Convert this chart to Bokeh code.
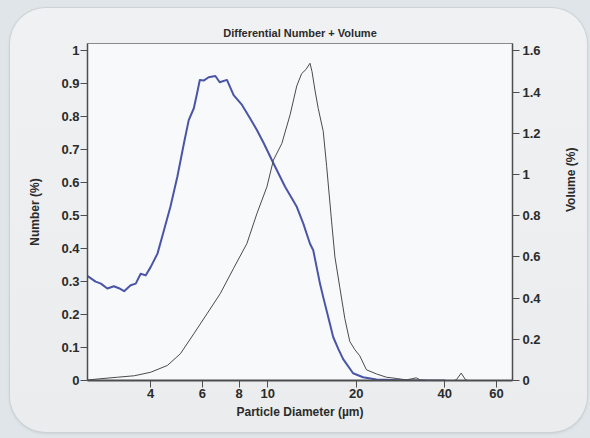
import math

from bokeh.plotting import figure
from bokeh.layouts import column
from bokeh.models import Range1d, LinearAxis, FixedTicker, NumeralTickFormatter
from bokeh.embed import file_html
from bokeh.resources import INLINE

# Particle size distribution: differential number and volume (%)
number_diam = [2.45, 2.60, 2.71, 2.85, 3.00, 3.12, 3.25, 3.42, 3.56, 3.70, 3.85,
               4.00, 4.22, 4.44, 4.67, 4.93, 5.19, 5.39, 5.61, 5.75, 5.88, 6.06, 6.30,
               6.64, 6.87, 7.27, 7.66, 8.18, 8.72, 9.19, 9.70, 10.46, 11.46, 12.56,
               13.22, 13.93, 14.29, 15.06, 15.45, 16.28, 16.70, 17.40, 18.06, 19.52, 21.10,
               23.43, 28.1, 35.0, 40.0]
number_pct = [0.316, 0.300, 0.294, 0.279, 0.286, 0.280, 0.271, 0.289, 0.294, 0.324, 0.319,
              0.344, 0.385, 0.456, 0.527, 0.618, 0.719, 0.790, 0.826, 0.870, 0.912, 0.910,
              0.920, 0.924, 0.905, 0.912, 0.866, 0.836, 0.795, 0.760, 0.720, 0.659, 0.588,
              0.527, 0.476, 0.415, 0.395, 0.294, 0.253, 0.172, 0.132, 0.095, 0.065, 0.022,
              0.010, 0.003, 0.001, 0.0, 0.0]

volume_diam = [2.45, 3.09, 3.52, 4.00, 4.56, 5.05, 5.61, 6.22, 6.90, 7.66, 8.50, 9.19,
               9.94, 10.46, 11.17, 11.92, 12.56, 13.05, 13.50, 13.93, 14.15, 14.48, 14.86,
               15.45, 15.87, 16.50, 16.93, 17.60, 18.30, 19.02, 19.78, 20.56, 21.67, 23.43,
               25.33, 27.37, 29.60, 30.85, 32.0, 33.1, 34.9, 43.1, 43.9, 45.5, 47.0, 48.0,
               68.0]
volume_pct = [0.003, 0.016, 0.023, 0.040, 0.073, 0.130, 0.227, 0.324, 0.422, 0.545, 0.665, 0.810,
              0.940, 1.070, 1.150, 1.290, 1.430, 1.490, 1.510, 1.540, 1.500, 1.410, 1.320,
              1.210, 1.040, 0.770, 0.600, 0.450, 0.300, 0.190, 0.150, 0.120, 0.052, 0.032,
              0.016, 0.010, 0.003, 0.008, 0.013, 0.002, 0.0, 0.0, 0.005, 0.036, 0.005, 0.0,
              0.0]

x_ticks = [4, 6, 8, 10, 20, 40, 60]
number_ticks = [0, 0.1, 0.2, 0.3, 0.4, 0.5, 0.6, 0.7, 0.8, 0.9, 1.0]
volume_ticks = [0, 0.2, 0.4, 0.6, 0.8, 1.0, 1.2, 1.4, 1.6]

FONT = "Liberation Sans"
TEXT = "#2b2b2b"

# the figure is the rounded card; the page behind it is a pale blue-grey
p = figure(width=577, height=424, x_axis_type="log",
           x_range=Range1d(2.44, 68.0), y_range=Range1d(0, 1.0225),
           output_backend="svg", toolbar_location=None,
           min_border_left=77, min_border_right=74,
           min_border_top=35, min_border_bottom=52,
           title="Differential Number + Volume",
           margin=(8, 3, 6, 10),
           styles={"background": "linear-gradient(#f0f1f2, #eaeced)",
                   "border-radius": "36px",
                   "box-shadow": "0 0 0 1px #cdd2d5, 0 1px 3px rgba(120,130,140,0.35)"})
p.extra_y_ranges = {"vol": Range1d(0, 1.636)}

p.border_fill_color = None
p.background_fill_color = "#f8f9fa"
p.outline_line_color = "#8a8a8a"
p.grid.grid_line_color = None

p.title.align = "center"
p.title.text_font = FONT
p.title.text_font_size = "11px"
p.title.text_font_style = "bold"
p.title.text_color = TEXT
p.title.standoff = 9

p.line(number_diam, number_pct, line_color="#4a55a8", line_width=2,
       line_join="round", line_cap="round")
p.line(volume_diam, volume_pct, line_color="#4a4a4a", line_width=1,
       y_range_name="vol")

right_axis = LinearAxis(y_range_name="vol", axis_label="Volume (%)")
p.add_layout(right_axis, "right")


def style_axis(ax, line_w):
    ax.axis_line_color = "#4d4d4d"
    ax.axis_line_width = line_w
    ax.major_tick_line_color = "#4d4d4d"
    ax.major_tick_in = 0
    ax.major_tick_out = 7
    ax.minor_tick_line_color = None
    ax.major_label_text_font = FONT
    ax.major_label_text_font_size = "13px"
    ax.major_label_text_font_style = "bold"
    ax.major_label_text_color = TEXT
    ax.axis_label_text_font = FONT
    ax.axis_label_text_font_size = "12px"
    ax.axis_label_text_font_style = "bold"
    ax.axis_label_text_color = TEXT


xa = p.xaxis[0]
style_axis(xa, 2)
xa.ticker = FixedTicker(ticks=x_ticks, minor_ticks=[])
xa.formatter = NumeralTickFormatter(format="0")
xa.axis_label = "Particle Diameter (µm)"
xa.major_label_standoff = 1
xa.axis_label_standoff = 4

ya = p.yaxis[0]
style_axis(ya, 1.5)
ya.ticker = FixedTicker(ticks=number_ticks, minor_ticks=[])
ya.formatter = NumeralTickFormatter(format="0.[0]")
ya.axis_label = "Number (%)"
ya.major_label_standoff = 1
ya.axis_label_standoff = 16

style_axis(right_axis, 1.5)
right_axis.ticker = FixedTicker(ticks=volume_ticks, minor_ticks=[])
right_axis.formatter = NumeralTickFormatter(format="0.[0]")
right_axis.major_label_standoff = 3
right_axis.axis_label_standoff = 27
right_axis.axis_label_orientation = math.pi / 2

page = column(p, styles={"background-color": "#dfe5e8"})

open("out.html", "w").write(file_html(page, INLINE))
